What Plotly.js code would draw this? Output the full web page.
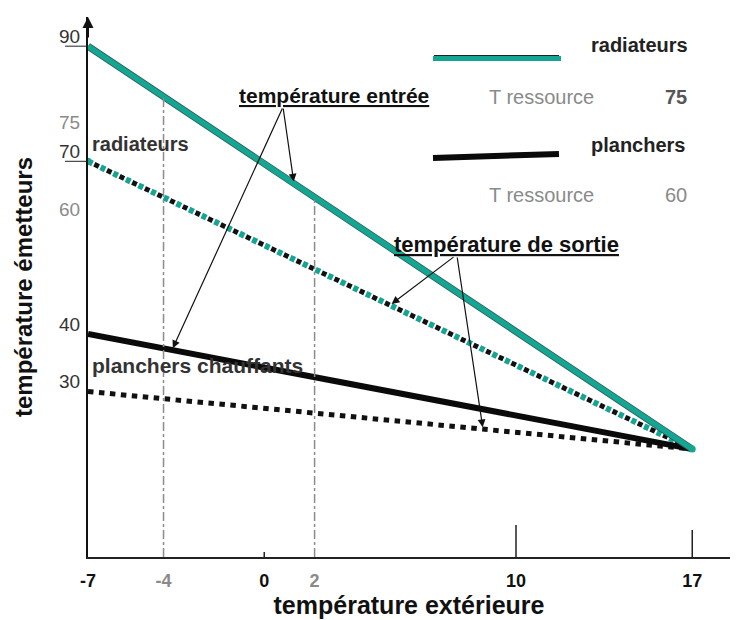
<!DOCTYPE html>
<html>
<head>
<meta charset="utf-8">
<script src="https://cdn.plot.ly/plotly-3.0.1.min.js"></script>
<style>html,body{margin:0;padding:0;background:#fff;}#chart{width:737px;height:620px;}</style>
</head>
<body>
<div id="chart"></div>
<script>
// ---- data (read from the schematic) ----
const outsideTemp = [-7, 17];
const radiateursEntree = [90, 20];
const radiateursSortie = [70, 20];
const planchersEntree = [40, 20];
const planchersSortie = [30, 20];
const xTickVals = [-7, -4, 0, 2, 10, 17];
const xTickText = ['<b>-7</b>', '<b><span style="color:#8a8a8a">-4</span></b>', '<b>0</b>', '<b><span style="color:#8a8a8a">2</span></b>', '<b>10</b>', '<b>17</b>'];
const yTickVals = [90, 75, 70, 60, 40, 30];
const yTickText = ['<span style="color:#333">90</span>', '<span style="color:#8a8a8a">75</span>', '<span style="color:#333">70</span>', '<span style="color:#8a8a8a">60</span>', '<span style="color:#333">40</span>', '<span style="color:#333">30</span>'];
const guideLinesX = [-4, 2];
const tRessourceRadiateurs = 75;
const tRessourcePlanchers = 60;

// ---- geometry ----
const W = 737, H = 620;
const M = {l: 88, r: 7, t: 17, b: 63};
const XR = [-7, 18.5];
const YR = [1.25, 95.07];
const PW = W - M.l - M.r, PH = H - M.t - M.b;
const pX = px => (px - M.l) / PW;                // pixel -> paper
const pY = py => (H - M.b - py) / PH;
const dX = px => XR[0] + pX(px) * (XR[1] - XR[0]); // pixel -> data
const dY = py => YR[0] + pY(py) * (YR[1] - YR[0]);
function interp(xArr, yArr, x) {
  const t = (x - xArr[0]) / (xArr[1] - xArr[0]);
  return yArr[0] + t * (yArr[1] - yArr[0]);
}

const TEAL = '#14a693';
const traces = [
  {x: outsideTemp, y: radiateursSortie, mode: 'lines', line: {color: '#111', width: 5, dash: '0px,7px,5px,2px'}, hoverinfo: 'skip'},
  {x: outsideTemp, y: radiateursSortie, mode: 'lines', line: {color: TEAL, width: 6, dash: '5px,9px'}, hoverinfo: 'skip'},
  {x: outsideTemp, y: planchersSortie, mode: 'lines', line: {color: '#111', width: 5, dash: '5.5px,5.5px'}, hoverinfo: 'skip'},
  {x: outsideTemp, y: planchersEntree, mode: 'lines', line: {color: '#0a0a0a', width: 6}, hoverinfo: 'skip'},
  {x: outsideTemp, y: radiateursEntree, mode: 'lines', line: {color: '#2d5e57', width: 7}, hoverinfo: 'skip'},
  {x: outsideTemp, y: radiateursEntree, mode: 'lines', line: {color: TEAL, width: 5.5}, hoverinfo: 'skip'},
  {x: [outsideTemp[0], outsideTemp[1]], y: [radiateursSortie[0], radiateursSortie[1]], mode: 'markers', marker: {color: TEAL, size: 7}, hoverinfo: 'skip'}
];

const shapes = [];
// dash-dot guide lines from the inlet line down to the axis
guideLinesX.forEach(gx => {
  shapes.push({type: 'line', xref: 'x', yref: 'y', x0: gx, x1: gx, y0: YR[0], y1: interp(outsideTemp, radiateursEntree, gx),
    line: {color: '#8c8c8c', width: 1.5, dash: 'dashdot'}});
});
// x tick marks
[[0, 5], [10, 32], [17, 27]].forEach(([tx, len]) => {
  shapes.push({type: 'line', xref: 'x', yref: 'paper', x0: tx, x1: tx, y0: 0, y1: len / PH, line: {color: '#222', width: 1.5}});
});
// y tick marks at 90 and 70
[90, 70].forEach(v => {
  shapes.push({type: 'line', xref: 'paper', yref: 'y', x0: -23 / PW, x1: 0, y0: v, y1: v, line: {color: '#222', width: 1}});
});
// legend swatches
shapes.push({type: 'line', xref: 'paper', yref: 'paper', x0: pX(434), x1: pX(559), y0: pY(56), y1: pY(56), line: {color: '#222', width: 2}});
shapes.push({type: 'line', xref: 'paper', yref: 'paper', x0: pX(433), x1: pX(561), y0: pY(58.5), y1: pY(58.5), line: {color: TEAL, width: 5}});
shapes.push({type: 'line', xref: 'paper', yref: 'paper', x0: pX(433), x1: pX(559), y0: pY(158), y1: pY(154), line: {color: '#0a0a0a', width: 6}});

const bold = (t) => '<b>' + t + '</b>';
const ul = (t) => '<span style="text-decoration:underline">' + t + '</span>';
const F = 'Arial, "Liberation Sans", sans-serif';
const annotations = [
  // y axis arrow head
  {xref: 'x', yref: 'paper', x: XR[0], y: 1, axref: 'pixel', ayref: 'pixel', ax: 0, ay: 22, text: '', showarrow: true, arrowhead: 2, arrowsize: 1.1, arrowwidth: 2, arrowcolor: '#111'},
  // series labels
  {xref: 'x', yref: 'y', x: outsideTemp[0], y: radiateursSortie[0], xanchor: 'left', yanchor: 'middle', xshift: 2, yshift: 17, showarrow: false,
    text: bold('radiateurs'), font: {family: F, size: 20, color: '#333'}},
  {xref: 'x', yref: 'y', x: outsideTemp[0], y: planchersEntree[0], xanchor: 'left', yanchor: 'middle', xshift: 2, yshift: -32, showarrow: false,
    text: bold('planchers chauffants'), font: {family: F, size: 21, color: '#333'}},
  // callout titles
  {xref: 'paper', yref: 'paper', x: pX(334), y: pY(96), xanchor: 'center', yanchor: 'middle', showarrow: false,
    text: bold(ul('température entrée')), font: {family: F, size: 21, color: '#111'}},
  {xref: 'paper', yref: 'paper', x: pX(506), y: pY(244), xanchor: 'center', yanchor: 'middle', showarrow: false,
    text: bold(ul('température de sortie')), font: {family: F, size: 22, color: '#111'}},
  // legend text
  {xref: 'paper', yref: 'paper', x: pX(589), y: pY(45), xanchor: 'left', yanchor: 'middle', showarrow: false, text: bold('radiateurs'), font: {family: F, size: 20, color: '#222'}},
  {xref: 'paper', yref: 'paper', x: pX(487), y: pY(97), xanchor: 'left', yanchor: 'middle', showarrow: false, text: 'T ressource', font: {family: F, size: 20, color: '#8a8a8a'}},
  {xref: 'paper', yref: 'paper', x: pX(689), y: pY(97), xanchor: 'right', yanchor: 'middle', showarrow: false, text: bold(String(tRessourceRadiateurs)), font: {family: F, size: 20, color: '#555'}},
  {xref: 'paper', yref: 'paper', x: pX(589), y: pY(145), xanchor: 'left', yanchor: 'middle', showarrow: false, text: bold('planchers'), font: {family: F, size: 20, color: '#222'}},
  {xref: 'paper', yref: 'paper', x: pX(487), y: pY(195), xanchor: 'left', yanchor: 'middle', showarrow: false, text: 'T ressource', font: {family: F, size: 20, color: '#8a8a8a'}},
  {xref: 'paper', yref: 'paper', x: pX(689), y: pY(195), xanchor: 'right', yanchor: 'middle', showarrow: false, text: String(tRessourcePlanchers), font: {family: F, size: 20, color: '#8a8a8a'}}
];
// callout arrows: tail at the title, head on the line
function arrow(tailPx, tailPy, headPx, xArr, yArr) {
  const hx = dX(headPx);
  annotations.push({xref: 'x', yref: 'y', axref: 'x', ayref: 'y', x: hx, y: interp(xArr, yArr, hx), ax: dX(tailPx), ay: dY(tailPy),
    text: '', showarrow: true, arrowhead: 2, arrowsize: 1.3, arrowwidth: 1.2, arrowcolor: '#111', standoff: 2});
}
arrow(283, 107, 294, outsideTemp, radiateursEntree);
arrow(283, 107, 172, outsideTemp, planchersEntree);
arrow(455, 256, 390, outsideTemp, radiateursSortie);
arrow(457, 256, 483, outsideTemp, planchersSortie);

const layout = {
  width: W, height: H,
  margin: M,
  paper_bgcolor: '#fff', plot_bgcolor: '#fff',
  showlegend: false,
  font: {family: F, color: '#111'},
  xaxis: {
    range: XR, showgrid: false, zeroline: false, showline: true, linecolor: '#222', linewidth: 1.5,
    tickmode: 'array', tickvals: xTickVals, ticktext: xTickText, ticks: '',
    tickfont: {family: F, size: 18, color: '#111'}, ticklabelstandoff: 7,
    title: {text: 'température extérieure', font: {family: F, size: 25, color: '#111', weight: 'bold'}, standoff: 4}
  },
  yaxis: {
    range: YR, showgrid: false, zeroline: false, showline: true, linecolor: '#111', linewidth: 2,
    tickmode: 'array', tickvals: yTickVals, ticktext: yTickText, ticks: '',
    tickfont: {family: F, size: 19, color: '#555'}, ticklabelshift: -10, ticklabelstandoff: 2,
    title: {text: 'température émetteurs', font: {family: F, size: 24, color: '#111', weight: 'bold'}, standoff: 20}
  },
  shapes: shapes,
  annotations: annotations
};

Plotly.newPlot('chart', traces, layout, {displayModeBar: false, staticPlot: true});
</script>
</body>
</html>
